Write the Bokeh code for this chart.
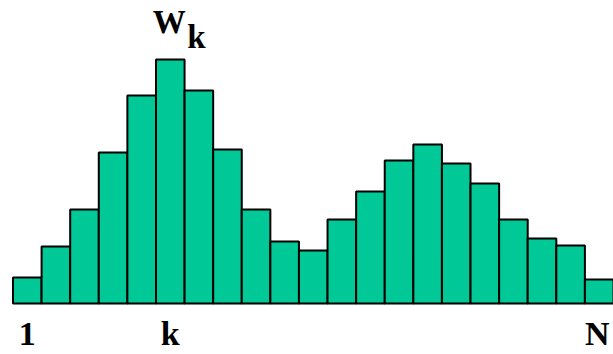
from bokeh.plotting import figure
from bokeh.models import Range1d, ColumnDataSource
from bokeh.core.properties import value
from bokeh.embed import file_html
from bokeh.resources import INLINE

# Data
bins = list(range(1, 22))
weights = [26, 57, 94, 151, 208, 244, 213, 154, 94, 62, 53, 84, 112, 143, 159, 140, 120, 84, 65, 58, 24]
tick_positions = [1, 6, 21]
tick_labels = ["1", "k", "N"]

W, H = 613, 354
p = figure(width=W, height=H, output_backend="svg", toolbar_location=None,
           x_axis_type=None, y_axis_type=None, min_border=0,
           x_range=Range1d(0.5 - 12.5 / 28.6, 21.5), y_range=Range1d(-51, 303))
p.outline_line_color = None
p.xgrid.visible = False
p.ygrid.visible = False
p.background_fill_color = "white"
p.border_fill_color = "white"

src = ColumnDataSource(dict(x=bins, top=weights))
p.vbar(x="x", top="top", bottom=0, width=1.0, source=src,
       fill_color="#00C896", line_color="black", line_width=2)

lab = ColumnDataSource(dict(x=tick_positions, y=[-30] * 3, t=tick_labels, dx=[0, 0, -2]))
p.text(x="x", y="y", text="t", source=lab, text_align="center", text_baseline="alphabetic",
       x_offset="dx",
       text_font=value("Liberation Serif"), text_font_style="bold",
       text_font_size=value("34px"), text_color="black")

p.text(x=[6], y=[282], text=["W"], text_align="center", text_baseline="alphabetic",
       x_offset=-1, text_font=value("Liberation Serif"), text_font_style="bold",
       text_font_size=value("33px"), text_color="black")
p.text(x=[6], y=[267], text=["k"], text_align="left", text_baseline="alphabetic",
       x_offset=17, text_font=value("Liberation Serif"), text_font_style="bold",
       text_font_size=value("33px"), text_color="black")

open("out.html", "w").write(file_html(p, INLINE))
